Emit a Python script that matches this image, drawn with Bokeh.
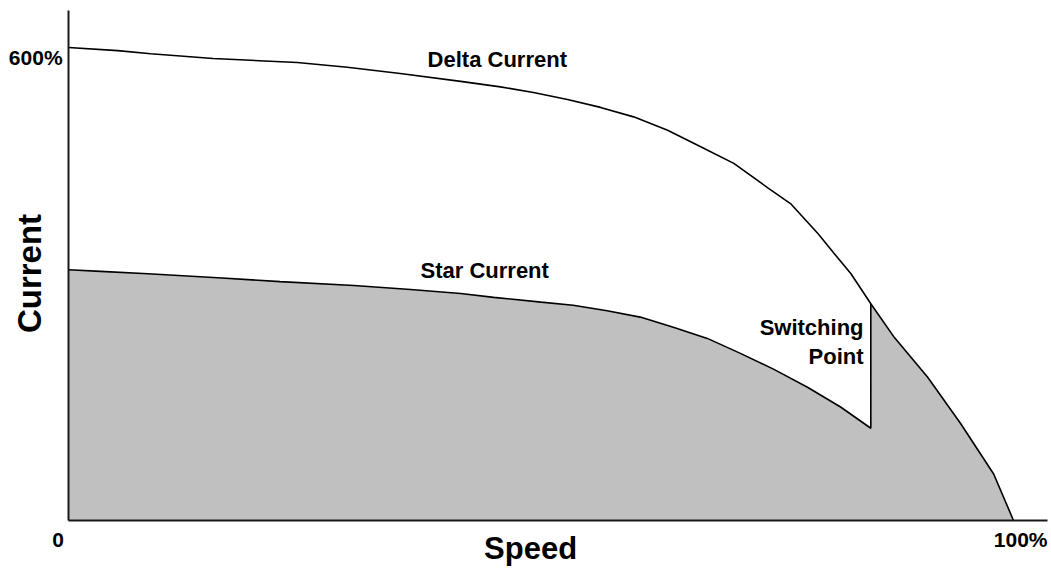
from bokeh.plotting import figure
from bokeh.models import Range1d, Label, FixedTicker
from bokeh.embed import file_html
from bokeh.resources import INLINE
import math

# ---- data (speed in % of synchronous speed, current in % of rated) ----
speed_delta = [0, 5.2, 8.7, 15.3, 24.2, 29.5, 35.1, 41.5, 45.7, 49.2, 52.8, 56.3, 59.8, 63.4, 66.9,
               70.4, 74.0, 76.4, 79.3, 81.0, 82.8, 84.9,
               87.4, 90.9, 94.4, 97.9, 100]
delta_current = [600, 596, 592, 586, 581, 575, 567, 557, 550, 543, 534, 524, 512, 495, 474,
                 453, 422, 402, 364, 339, 313, 275,
                 232, 182, 123, 59, 0]

speed_star = [0, 3.4, 8.4, 15.8, 22.4, 30.2, 36.2, 41.5, 45.0, 50.0, 53.4, 57.0, 60.5, 64.0,
              67.6, 71.1, 74.6, 78.2, 81.7, 84.9]
star_current = [318, 316, 313, 308, 303, 298, 293, 288, 283, 277, 273, 266, 258, 245,
                231, 212, 192, 169, 144, 117]

switch_speed = 84.9

x_labels = ["0", "100%"]
y_labels = ["600%"]

FONT = "Liberation Sans"

# frame covers the whole canvas; axes are drawn at fixed locations inside it
p = figure(width=1051, height=569, output_backend="svg", toolbar_location=None,
           x_range=Range1d(-7.196, 104.02), y_range=Range1d(-62.16, 659.6),
           min_border=0, min_border_left=0, min_border_right=0,
           min_border_top=0, min_border_bottom=0)

p.xgrid.visible = False
p.ygrid.visible = False
p.outline_line_color = None
p.background_fill_color = "white"
p.border_fill_color = "white"

p.xaxis.fixed_location = 0
p.yaxis.fixed_location = 0
p.xaxis.bounds = (0, 103.6)
p.yaxis.bounds = (0, 646.9)
for ax in (p.xaxis[0], p.yaxis[0]):
    ax.ticker = FixedTicker(ticks=[])
    ax.major_tick_line_color = None
    ax.minor_tick_line_color = None
    ax.major_label_text_font_size = "0px"
    ax.axis_line_color = "#1a1a1a"
    ax.axis_line_width = 2

# shaded area: star current up to switching point, then delta current
fill_x = list(speed_star) + [x for x in speed_delta if x >= switch_speed] + [100, 0]
fill_y = list(star_current) + [y for x, y in zip(speed_delta, delta_current) if x >= switch_speed] + [0, 0]
p.patch(fill_x, fill_y, fill_color="#C0C0C0", line_color=None)

# delta current curve
p.line(speed_delta, delta_current, line_color="black", line_width=1.6)

# star current curve plus jump at switching point
switch_delta = [y for x, y in zip(speed_delta, delta_current) if x == switch_speed][0]
p.line(speed_star + [switch_speed], star_current + [switch_delta], line_color="black", line_width=1.6)

def lab(x, y, text, size, align="left", bold=True, angle=0.0):
    p.add_layout(Label(x=x, y=y, text=text, x_units="data", y_units="data",
                       text_font=FONT, text_font_size=size,
                       text_font_style="bold" if bold else "normal",
                       text_align=align, text_baseline="alphabetic",
                       text_color="black", angle=angle))

lab(-0.63, 586.7, y_labels[0], "21px", align="right")
lab(-1.11, -24.7, x_labels[0], "21px", align="center")
lab(103.6, -24.7, x_labels[1], "21px", align="right")

lab(38.0, 584.8, "Delta Current", "22px")
lab(37.25, 316.5, "Star Current", "22px")
lab(84.13, 244.2, "Switching", "22px", align="right")
lab(84.13, 208.3, "Point", "22px", align="right")

lab(48.9, -35.5, "Speed", "31px", align="center")
lab(-4.13, 313.3, "Current", "33px", align="center", angle=math.pi / 2)

open("out.html", "w").write(file_html(p, INLINE))
